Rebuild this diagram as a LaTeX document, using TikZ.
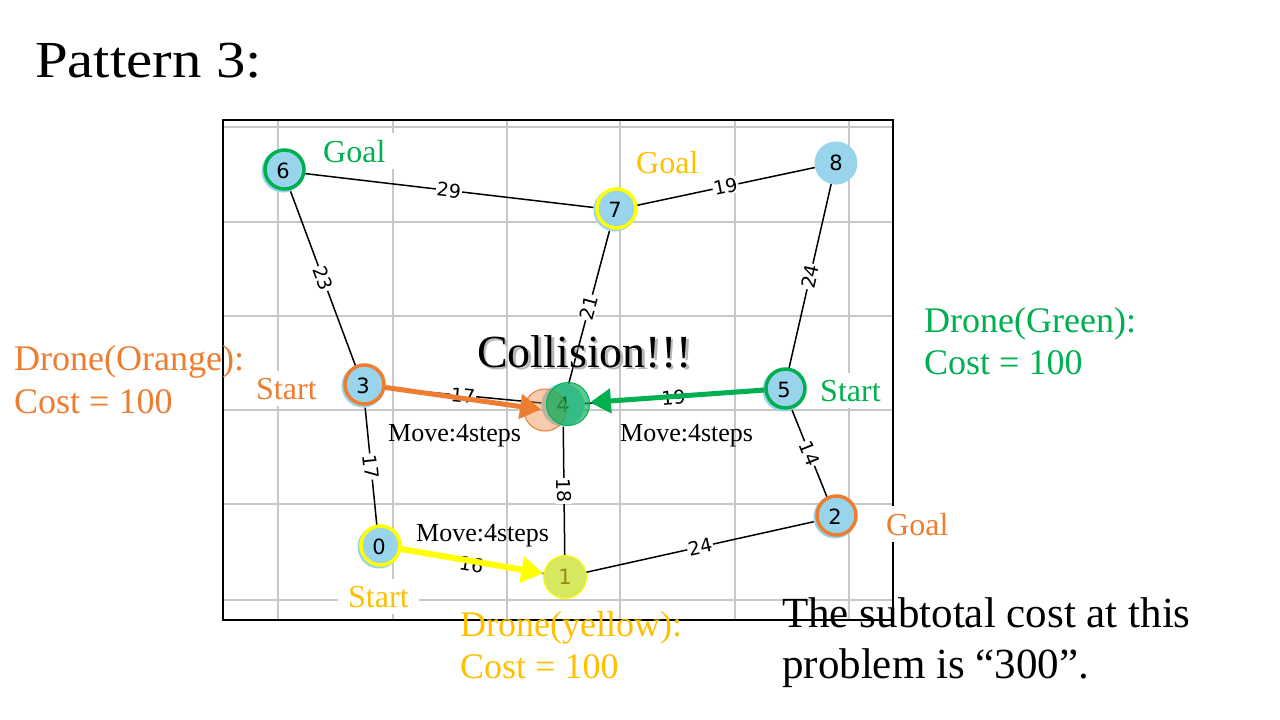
\documentclass[tikz,border=0pt]{standalone}
\usepackage{fontspec}
\usepackage{graphicx}
\setmainfont{Liberation Serif}
\newfontfamily\dejavu{DejaVu Sans}
\usetikzlibrary{arrows.meta}
\definecolor{nodeblue}{RGB}{152,212,236}
\definecolor{dorange}{RGB}{237,125,49}
\definecolor{dgreen}{RGB}{0,176,80}
\definecolor{dgold}{RGB}{255,192,0}
\definecolor{dyellow}{RGB}{255,255,0}
\definecolor{gridgray}{RGB}{200,200,200}
\definecolor{limefill}{RGB}{214,232,96}
\definecolor{olivetext}{RGB}{150,140,30}
\newcommand\fsz[1]{\fontsize{#1}{#1}\selectfont}
\tikzset{
  vtx/.style={circle, fill=nodeblue, minimum size=43pt, inner sep=0pt, font=\dejavu\fsz{21}},
  ringnode/.style={circle, draw=#1, line width=3.5pt, minimum size=39pt, inner sep=0pt},
  edgeline/.style={draw=black, line width=1.5pt},
  elabel/.style={fill=white, inner sep=1pt, font=\dejavu\fsz{19}, sloped, midway},
  txt/.style={anchor=base west, inner sep=0pt, font=\fsz{#1}},
  boxtxt/.style={anchor=base west, fill=white, inner xsep=10pt, inner ysep=7pt, font=\fsz{#1}},
  gridline/.style={draw=gridgray, line width=1.3pt},
  movearrow/.style={line width=#1, -{Triangle[length=21pt,width=24pt]}}
}
\begin{document}
\begin{tikzpicture}[x=1pt,y=-1pt]
\useasboundingbox (0,0) rectangle (1280,720);
\fill[white] (0,0) rectangle (1280,720);
% title
\node[txt=52] (title) at (35,77) {\scalebox{1.13}[1]{Pattern 3:}};
% grid
\foreach \gx in {278,393,507,620,735,849}
  \draw[gridline] (\gx,120) -- (\gx,620);
\foreach \gy in {127,222,316,410,504,600}
  \draw[gridline] (223,\gy) -- (893,\gy);
\draw[line width=1.3pt] (223,120) rectangle (893,620);
% labels with white boxes
\node[boxtxt=32, text=dgreen] (goalG) at (313,162) {Goal};
\node[boxtxt=32, text=dgold] (goalY) at (626,173) {Goal};
\node[boxtxt=32, text=dorange] (startO) at (246,399) {Start};
\node[boxtxt=32, text=dgreen] (startG) at (810,401) {Start};
\node[boxtxt=32, text=dorange] (goalO) at (876,535) {Goal};
\node[boxtxt=32, text=dgold] (startY) at (338,607) {Start};
% vertices
\node[vtx] (n6) at (283,171) {6};
\node[vtx] (n7) at (615,210) {7};
\node[vtx] (n8) at (836,163) {8};
\node[vtx] (n3) at (363,386) {3};
\node[vtx] (n4) at (563,405) {4};
\node[vtx] (n5) at (784,390) {5};
\node[vtx] (n0) at (379,547) {0};
\node[vtx, fill=limefill, draw=dyellow, line width=1pt, text=olivetext] (n1) at (565,577) {1};
\node[vtx] (n2) at (835,517) {2};
% edges
\path[edgeline] (n6) -- (n7) node[elabel] {29};
\path[edgeline] (n7) -- (n8) node[elabel] {19};
\path[edgeline] (n6) -- (n3) node[elabel] {23};
\path[edgeline] (n7) -- (n4) node[elabel] {21};
\path[edgeline] (n8) -- (n5) node[elabel] {24};
\path[edgeline] (n3) -- (n4) node[elabel] {17};
\path[edgeline] (n4) -- (n5) node[elabel] {19};
\path[edgeline] (n3) -- (n0) node[elabel] {17};
\path[edgeline] (n4) -- (n1) node[elabel] {18};
\path[edgeline] (n5) -- (n2) node[elabel] {14};
\path[edgeline] (n0) -- (n1) node[elabel, yshift=-3pt] {16};
\path[edgeline] (n1) -- (n2) node[elabel] {24};
% rings
\node[ringnode=dgreen] (r6) at (284.5,169.5) {};
\node[ringnode=dyellow] (r7) at (616.5,208.5) {};
\node[ringnode=dorange] (r3) at (364.5,384.5) {};
\node[ringnode=dgreen] (r5) at (785.5,388.5) {};
\node[ringnode=dyellow] (r0) at (380.5,545.5) {};
\node[ringnode=dorange] (r2) at (836.5,515.5) {};
% collision overlays
\node[circle, minimum size=42pt, inner sep=0pt, fill=dorange, fill opacity=0.4, draw=dorange, line width=1pt] (o4) at (545,410) {};
\node[circle, minimum size=43pt, inner sep=0pt, fill=dgreen, fill opacity=0.65, draw=dgreen, line width=1pt] (g4) at (568,404) {};
% drone moves
\draw[movearrow=5pt, dorange] (r3) -- (o4.center) [shorten >=4pt];
\draw[movearrow=5pt, dgreen] (r5) -- (g4);
\draw[movearrow=6pt, dyellow, -{Triangle[length=22pt,width=26pt]}] (r0) -- (n1);
% texts
\node[txt=26] (mv1) at (388,441) {Move:4steps};
\node[txt=26] (mv2) at (620,441) {Move:4steps};
\node[txt=26] (mv3) at (416,541) {Move:4steps};
\node[txt=46, text=black!35, opacity=0.8] (colsh) at (479.5,369.5) {Collision!!!};
\node[txt=46] (col) at (477,367) {Collision!!!};
\node[txt=36, text=dgreen] (dG1) at (924,332) {Drone(Green):};
\node[txt=36, text=dgreen] (dG2) at (924,374) {Cost = 100};
\node[txt=36, text=dorange] (dO1) at (14,370) {Drone(Orange):};
\node[txt=36, text=dorange] (dO2) at (14,413) {Cost = 100};
\node[txt=36, text=dgold] (dY1) at (460,636) {Drone(yellow):};
\node[txt=36, text=dgold] (dY2) at (460,678) {Cost = 100};
\node[txt=43] (sub1) at (782,627) {The subtotal cost at this};
\node[txt=43] (sub2) at (782,678) {problem is “300”.};
\end{tikzpicture}
\end{document}
